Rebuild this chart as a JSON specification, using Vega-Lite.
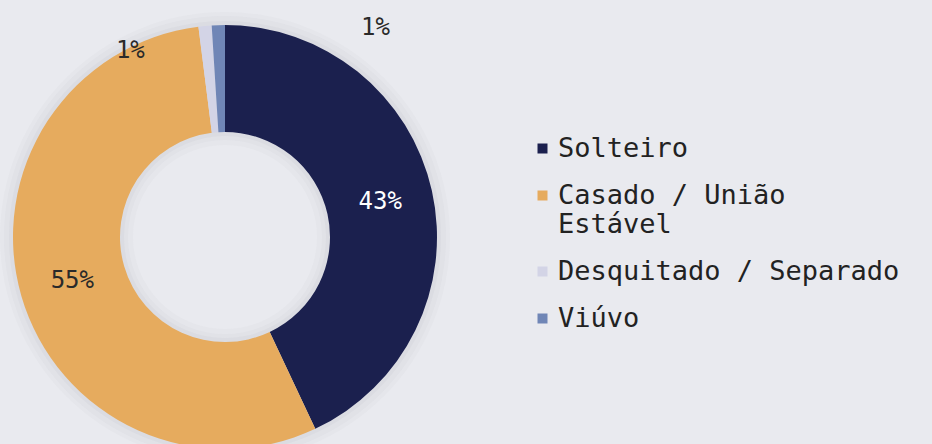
{
  "$schema": "https://vega.github.io/schema/vega-lite/v6.json",
  "width": 450,
  "height": 474,
  "padding": {"left": 0, "top": 0, "right": 80, "bottom": 0},
  "autosize": {"type": "pad"},
  "background": "#e9eaef",
  "config": {"view": {"stroke": null}, "font": "DejaVu Sans Mono"},
  "datasets": {
    "main": [
      {"estado": "Solteiro", "pct": 43, "label": "43%", "ord": 1},
      {"estado": "Casado / União Estável", "pct": 55, "label": "55%", "ord": 2},
      {"estado": "Desquitado / Separado", "pct": 1, "label": "1%", "ord": 3},
      {"estado": "Viúvo", "pct": 1, "label": "1%", "ord": 4}
    ],
    "halo": [{"v": 100}]
  },
  "layer": [
    {"data": {"name": "halo"}, "mark": {"type": "arc", "outerRadius": 225, "innerRadius": 92, "color": "#8a8c99", "opacity": 0.035}, "encoding": {"theta": {"field": "v", "type": "quantitative", "stack": true, "scale": {"domain": [0, 100]}}}},
    {"data": {"name": "halo"}, "mark": {"type": "arc", "outerRadius": 221, "innerRadius": 97, "color": "#8a8c99", "opacity": 0.045}, "encoding": {"theta": {"field": "v", "type": "quantitative", "stack": true, "scale": {"domain": [0, 100]}}}},
    {"data": {"name": "halo"}, "mark": {"type": "arc", "outerRadius": 216, "innerRadius": 101, "color": "#8a8c99", "opacity": 0.06}, "encoding": {"theta": {"field": "v", "type": "quantitative", "stack": true, "scale": {"domain": [0, 100]}}}},
    {
      "data": {"name": "main"},
      "mark": {"type": "arc", "outerRadius": 212, "innerRadius": 105},
      "encoding": {
        "theta": {"field": "pct", "type": "quantitative", "stack": true, "scale": {"domain": [0, 100]}},
        "order": {"field": "ord", "type": "quantitative"},
        "color": {
          "field": "estado", "type": "nominal",
          "scale": {"domain": ["Solteiro", "Casado / União Estável", "Desquitado / Separado", "Viúvo"], "range": ["#1b204e", "#e6ab5e", "#d3d4e6", "#7086b6"]},
          "legend": {
            "title": null, "orient": "none", "legendX": 529, "legendY": 135,
            "padding": 0,
            "symbolType": "square", "symbolSize": 100, "symbolStrokeWidth": 0,
            "labelFont": "DejaVu Sans Mono", "labelFontSize": 27, "labelColor": "#222222",
            "labelOffset": 2, "rowPadding": 19, "labelLimit": 500,
            "labelExpr": "datum.label == 'Casado / União Estável' ? ['Casado / União', 'Estável'] : datum.label"
          }
        }
      }
    },
    {
      "data": {"name": "main"},
      "transform": [
        {"stack": "pct", "groupby": [], "sort": [{"field": "ord"}], "as": ["t0", "t1"]},
        {"calculate": "(datum.t0 + datum.t1) / 2", "as": "mid"},
        {"filter": "datum.ord <= 2"}
      ],
      "mark": {"type": "text", "radius": 159, "font": "DejaVu Sans Mono", "fontSize": 24},
      "encoding": {
        "theta": {"field": "mid", "type": "quantitative", "stack": null, "scale": {"domain": [0, 100]}},
        "text": {"field": "label"},
        "color": {"condition": {"test": "datum.ord == 1", "value": "#ffffff"}, "value": "#2a2a2a"}
      }
    },
    {
      "data": {"name": "main"},
      "transform": [
        {"stack": "pct", "groupby": [], "sort": [{"field": "ord"}], "as": ["t0", "t1"]},
        {"calculate": "(datum.t0 + datum.t1) / 2", "as": "mid"},
        {"filter": "datum.ord == 3"}
      ],
      "mark": {"type": "text", "radius": 209, "dx": -75, "dy": 22, "font": "DejaVu Sans Mono", "fontSize": 24, "color": "#2a2a2a"},
      "encoding": {
        "theta": {"field": "mid", "type": "quantitative", "stack": null, "scale": {"domain": [0, 100]}},
        "text": {"field": "label"}
      }
    },
    {
      "data": {"name": "main"},
      "transform": [
        {"stack": "pct", "groupby": [], "sort": [{"field": "ord"}], "as": ["t0", "t1"]},
        {"calculate": "(datum.t0 + datum.t1) / 2", "as": "mid"},
        {"filter": "datum.ord == 4"}
      ],
      "mark": {"type": "text", "radius": 209, "dx": 157, "dy": 0, "font": "DejaVu Sans Mono", "fontSize": 24, "color": "#2a2a2a"},
      "encoding": {
        "theta": {"field": "mid", "type": "quantitative", "stack": null, "scale": {"domain": [0, 100]}},
        "text": {"field": "label"}
      }
    }
  ]
}
